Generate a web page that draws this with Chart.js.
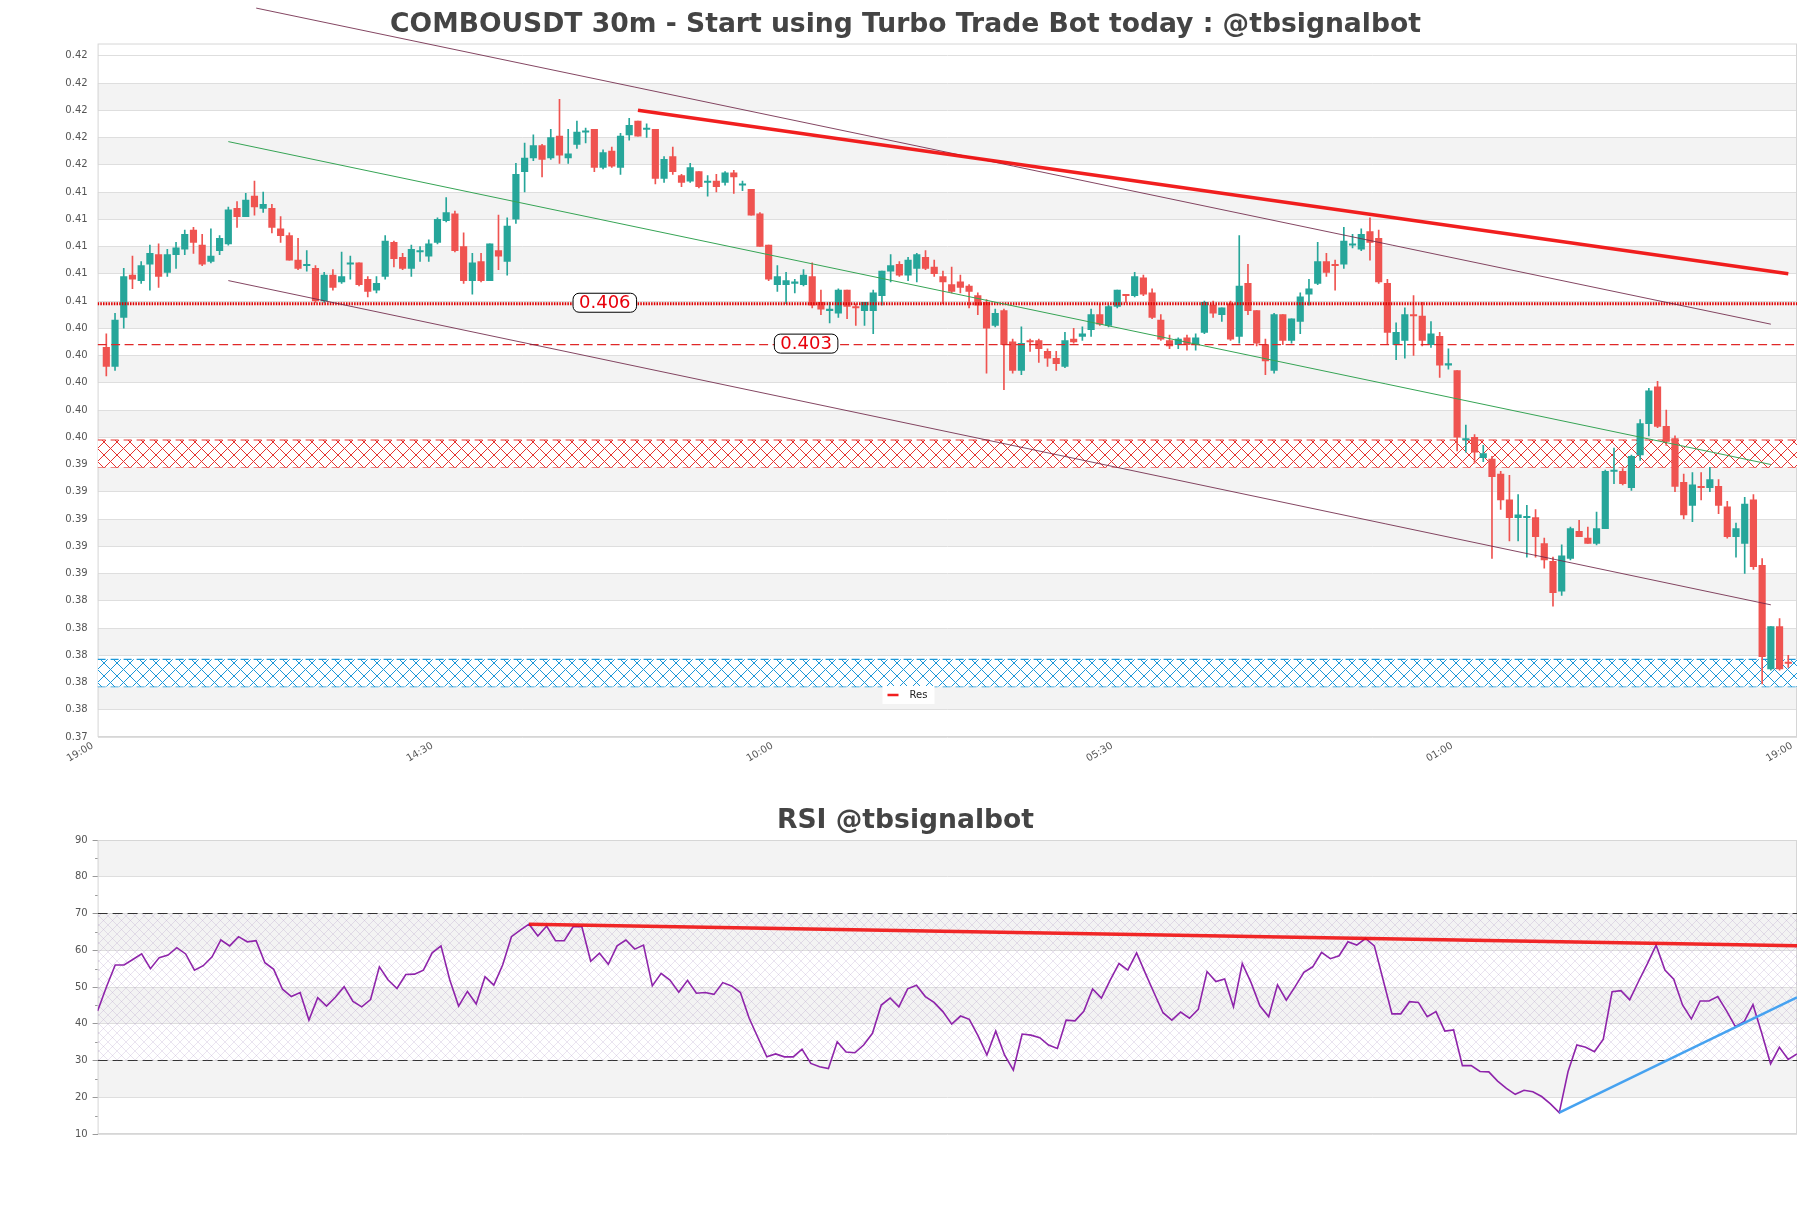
<!DOCTYPE html>
<html>
<head>
<meta charset="utf-8">
<script src="https://cdn.jsdelivr.net/npm/chart.js@4.4.1/dist/chart.umd.min.js"></script>
<style>
html, body { margin: 0; padding: 0; background: #fff; }
#wrap { position: relative; width: 1811px; height: 1208px; }
#main { position: absolute; left: 0; top: 0; width: 1811px; height: 790px; }
#rsi { position: absolute; left: 0; top: 790px; width: 1811px; height: 418px; }
</style>
</head>
<body>
<div id="wrap">
  <canvas id="main" width="1811" height="790"></canvas>
  <canvas id="rsi" width="1811" height="418"></canvas>
</div>
<script>
// COMBOUSDT 30m candles + RSI (Chart.js)
Chart.defaults.font.family = "'DejaVu Sans', sans-serif";
Chart.defaults.color = '#555';
Chart.defaults.animation = false;

const xTickLabels = ['19:00', '14:30', '10:00', '05:30', '01:00', '19:00'];

const opens = [
  0.4026,0.4012,0.4048,0.4079,0.4075,0.4087,0.4094,0.4081,0.4094,0.4098,
  0.4112,0.4101,0.4089,0.4097,0.4102,0.4128,0.4122,0.4137,0.4128,0.4128,
  0.4113,0.4108,0.4090,0.4086,0.4084,0.4060,0.4079,0.4074,0.4087,0.4088,
  0.4076,0.4068,0.4078,0.4103,0.4092,0.4084,0.4096,0.4093,0.4103,0.4119,
  0.4124,0.4100,0.4075,0.4089,0.4075,0.4097,0.4089,0.4120,0.4155,0.4165,
  0.4174,0.4165,0.4181,0.4165,0.4175,0.4184,0.4186,0.4158,0.4170,0.4158,
  0.4182,0.4192,0.4186,0.4186,0.4150,0.4166,0.4152,0.4148,0.4155,0.4147,
  0.4148,0.4147,0.4154,0.4145,0.4142,0.4124,0.4101,0.4072,0.4072,0.4073,
  0.4072,0.4078,0.4059,0.4053,0.4051,0.4068,0.4056,0.4053,0.4053,0.4064,
  0.4082,0.4087,0.4079,0.4084,0.4092,0.4085,0.4078,0.4072,0.4074,0.4071,
  0.4064,0.4059,0.4042,0.4053,0.4030,0.4009,0.4031,0.4031,0.4023,0.4018,
  0.4012,0.4032,0.4034,0.4039,0.4050,0.4042,0.4056,0.4065,0.4064,0.4077,
  0.4066,0.4046,0.4031,0.4028,0.4033,0.4028,0.4037,0.4057,0.4050,0.4058,
  0.4034,0.4073,0.4053,0.4028,0.4009,0.4050,0.4031,0.4045,0.4065,0.4073,
  0.4089,0.4087,0.4087,0.4101,0.4098,0.4111,0.4106,0.4073,0.4028,0.4031,
  0.4050,0.4049,0.4028,0.4034,0.4013,0.4009,0.3958,0.3960,0.3945,0.3944,
  0.3933,0.3914,0.3901,0.3901,0.3901,0.3882,0.3869,0.3847,0.3871,0.3891,
  0.3886,0.3882,0.3893,0.3935,0.3935,0.3923,0.3947,0.3970,0.3997,0.3968,
  0.3959,0.3927,0.3910,0.3924,0.3923,0.3924,0.3909,0.3887,0.3882,0.3914,
  0.3866,0.3790,0.3821,0.3795
];
const highs = [
  0.4036,0.4051,0.4084,0.4093,0.4089,0.4101,0.4102,0.4098,0.4103,0.4112,
  0.4114,0.4109,0.4113,0.4108,0.4129,0.4133,0.4139,0.4148,0.4140,0.4131,
  0.4122,0.4110,0.4106,0.4097,0.4086,0.4081,0.4083,0.4096,0.4093,0.4088,
  0.4078,0.4078,0.4108,0.4104,0.4095,0.4101,0.4100,0.4105,0.4121,0.4136,
  0.4126,0.4110,0.4095,0.4095,0.4102,0.4123,0.4121,0.4161,0.4176,0.4182,
  0.4175,0.4186,0.4208,0.4186,0.4192,0.4187,0.4186,0.4171,0.4173,0.4183,
  0.4194,0.4192,0.4190,0.4186,0.4166,0.4173,0.4153,0.4161,0.4155,0.4152,
  0.4153,0.4155,0.4156,0.4148,0.4142,0.4125,0.4101,0.4086,0.4081,0.4076,
  0.4083,0.4088,0.4068,0.4059,0.4069,0.4068,0.4058,0.4059,0.4068,0.4082,
  0.4094,0.4089,0.4092,0.4095,0.4097,0.4090,0.4082,0.4085,0.4079,0.4072,
  0.4066,0.4061,0.4054,0.4054,0.4032,0.4041,0.4032,0.4032,0.4025,0.4023,
  0.4037,0.4040,0.4041,0.4054,0.4058,0.4057,0.4068,0.4065,0.4081,0.4079,
  0.4069,0.4050,0.4035,0.4033,0.4035,0.4036,0.4060,0.4060,0.4055,0.4060,
  0.4108,0.4087,0.4053,0.4032,0.4051,0.4050,0.4047,0.4066,0.4076,0.4103,
  0.4095,0.4090,0.4114,0.4109,0.4113,0.4121,0.4112,0.4076,0.4044,0.4055,
  0.4064,0.4059,0.4045,0.4037,0.4025,0.4009,0.3969,0.3962,0.3954,0.3946,
  0.3935,0.3932,0.3918,0.3910,0.3907,0.3886,0.3872,0.3881,0.3894,0.3899,
  0.3894,0.3905,0.3936,0.3952,0.3937,0.3947,0.3973,0.3996,0.4001,0.3980,
  0.3961,0.3933,0.3934,0.3934,0.3938,0.3929,0.3913,0.3897,0.3916,0.3918,
  0.3871,0.3821,0.3827,0.3800
];
const lows = [
  0.4005,0.4009,0.4040,0.4069,0.4073,0.4068,0.4070,0.4078,0.4084,0.4094,
  0.4095,0.4086,0.4088,0.4094,0.4101,0.4114,0.4122,0.4123,0.4125,0.4110,
  0.4103,0.4090,0.4083,0.4082,0.4059,0.4059,0.4068,0.4073,0.4076,0.4071,
  0.4063,0.4066,0.4076,0.4085,0.4083,0.4078,0.4089,0.4089,0.4102,0.4118,
  0.4096,0.4073,0.4065,0.4074,0.4075,0.4083,0.4079,0.4117,0.4140,0.4163,
  0.4151,0.4164,0.4161,0.4161,0.4172,0.4176,0.4155,0.4157,0.4158,0.4153,
  0.4178,0.4181,0.4180,0.4146,0.4147,0.4153,0.4144,0.4147,0.4143,0.4137,
  0.4140,0.4145,0.4139,0.4141,0.4123,0.4100,0.4075,0.4067,0.4058,0.4066,
  0.4071,0.4055,0.4050,0.4044,0.4048,0.4047,0.4042,0.4042,0.4036,0.4057,
  0.4074,0.4078,0.4075,0.4074,0.4083,0.4078,0.4058,0.4066,0.4066,0.4055,
  0.4050,0.4007,0.4041,0.3995,0.4007,0.4006,0.4023,0.4015,0.4012,0.4009,
  0.4011,0.4029,0.4031,0.4034,0.4042,0.4041,0.4055,0.4059,0.4063,0.4064,
  0.4047,0.4031,0.4025,0.4025,0.4024,0.4024,0.4036,0.4048,0.4045,0.4031,
  0.4029,0.4050,0.4027,0.4006,0.4007,0.4028,0.4029,0.4036,0.4057,0.4072,
  0.4078,0.4068,0.4084,0.4099,0.4097,0.4090,0.4073,0.4028,0.4017,0.4018,
  0.4020,0.4027,0.4026,0.4004,0.4010,0.3950,0.3949,0.3941,0.3942,0.3871,
  0.3907,0.3884,0.3884,0.3872,0.3872,0.3864,0.3836,0.3844,0.3870,0.3887,
  0.3882,0.3881,0.3893,0.3926,0.3925,0.3921,0.3943,0.3961,0.3967,0.3954,
  0.3920,0.3900,0.3898,0.3914,0.3920,0.3904,0.3886,0.3872,0.3860,0.3863,
  0.3779,0.3789,0.3789,0.3791
];
const closes = [
  0.4012,0.4046,0.4078,0.4076,0.4086,0.4095,0.4078,0.4094,0.4099,0.4109,
  0.4103,0.4087,0.4093,0.4106,0.4127,0.4122,0.4134,0.4129,0.4131,0.4114,
  0.4108,0.4090,0.4084,0.4087,0.4060,0.4079,0.4070,0.4078,0.4088,0.4072,
  0.4067,0.4073,0.4104,0.4091,0.4084,0.4098,0.4097,0.4102,0.4120,0.4125,
  0.4097,0.4075,0.4088,0.4075,0.4102,0.4093,0.4115,0.4153,0.4165,0.4174,
  0.4164,0.4180,0.4167,0.4168,0.4184,0.4185,0.4158,0.4169,0.4159,0.4181,
  0.4189,0.4181,0.4187,0.4150,0.4164,0.4155,0.4147,0.4158,0.4144,0.4148,
  0.4144,0.4154,0.4151,0.4146,0.4123,0.4100,0.4076,0.4078,0.4075,0.4074,
  0.4079,0.4057,0.4054,0.4054,0.4068,0.4056,0.4055,0.4059,0.4066,0.4082,
  0.4086,0.4079,0.4090,0.4094,0.4084,0.4080,0.4074,0.4067,0.4070,0.4067,
  0.4057,0.4040,0.4051,0.4028,0.4009,0.4029,0.4030,0.4025,0.4018,0.4014,
  0.4031,0.4030,0.4036,0.4050,0.4043,0.4056,0.4068,0.4064,0.4078,0.4065,
  0.4048,0.4032,0.4027,0.4032,0.4028,0.4033,0.4059,0.4051,0.4055,0.4032,
  0.4071,0.4053,0.4029,0.4016,0.4050,0.4031,0.4047,0.4063,0.4069,0.4089,
  0.4081,0.4086,0.4104,0.4102,0.4109,0.4103,0.4074,0.4037,0.4037,0.4050,
  0.4049,0.4031,0.4036,0.4013,0.4014,0.3960,0.3959,0.3949,0.3948,0.3931,
  0.3914,0.3901,0.3903,0.3902,0.3887,0.3870,0.3846,0.3873,0.3893,0.3887,
  0.3882,0.3893,0.3935,0.3936,0.3926,0.3946,0.3970,0.3994,0.3968,0.3957,
  0.3924,0.3903,0.3925,0.3923,0.3929,0.3910,0.3887,0.3893,0.3911,0.3865,
  0.3799,0.3821,0.3790,0.3794
];

const rsiValues = [
  43.5,50,56,56,57.5,59,55,58,58.7,60.7,
  59,54.6,55.8,58.2,62.8,61.2,63.7,62.3,62.6,56.6,
  54.8,49.4,47.4,48.5,41,47.1,44.8,47.2,50.1,46.1,
  44.6,46.6,55.5,51.9,49.6,53.4,53.5,54.6,59.3,61.2,
  51.9,44.8,48.8,45.4,52.8,50.5,56,63.7,65.5,67.1,
  63.9,66.6,62.6,62.6,66.4,66.4,57,59.2,56.2,61.2,
  62.8,60.3,61.4,50.3,53.7,51.9,48.6,51.8,48.3,48.5,
  48,51.2,50.3,48.5,41.5,36.2,31,31.8,31,31,
  33.1,29.2,28.3,27.8,35.1,32.3,32.1,34.2,37.4,45.1,
  47,44.6,49.5,50.5,47.4,45.8,43.3,39.9,42.1,41.2,
  36.7,31.5,38,31.5,27.4,37.2,36.9,36.2,34.2,33.3,
  41,40.8,43.4,49.5,47,51.9,56.4,54.6,59.3,53.7,
  48.3,43,41,43.2,41.5,43.9,54.2,51.5,52.2,44.6,
  56.4,51.2,44.9,41.9,50.6,46.4,50.1,54,55.5,59.4,
  57.7,58.5,62.3,61.4,63.2,61.2,51.9,42.7,42.7,46,
  45.8,41.9,43.3,38,38.3,28.6,28.6,27,26.9,24.4,
  22.4,20.8,21.9,21.5,20.2,18.2,15.8,27,34.2,33.6,
  32.4,35.8,48.7,49,46.5,51.5,56.3,61.4,54.6,52.1,
  45.1,41.3,46.2,46.2,47.4,43.5,39.2,40.6,45.2,37.4,
  29.1,33.6,30.3,31.8
];

// trend lines as [candle index, price]
const resLine = [[61, 0.4200], [193, 0.4080]];
const channelUpper = [[17.2, 0.4275], [191, 0.4043]];
const channelLower = [[14, 0.4075], [191, 0.3837]];
const channelMid = [[14, 0.4177], [191, 0.3940]];
const levels = [0.4058, 0.4028];
const levelTexts = ['0.406', '0.403'];
const levelTextAt = [57.2, 80.3];
const resZone = [0.3938, 0.3958];
const supZone = [0.3777, 0.3797];

const rsiRes = [[49, 67.1], [193, 61.2]];
const rsiSup = [[166, 15.8], [193, 47.2]];
const rsiBounds = [30, 70];

const N = opens.length;
const GREEN = '#26a69a', RED = '#ef5350';
const CHANNEL = 'rgba(110,38,70,0.85)';

const pts = (arr) => arr.map(([x, y]) => ({ x, y }));
const flat = (v, a, b) => [{ x: a, y: v }, { x: b, y: v }];

function hatch(ctx, color, size, bg) {
    const c = document.createElement('canvas');
    c.width = c.height = size;
    const g = c.getContext('2d');
    if (bg) { g.fillStyle = bg; g.fillRect(0, 0, size, size); }
    g.strokeStyle = color;
    g.lineWidth = 1;
    g.beginPath();
    g.moveTo(0, 0); g.lineTo(size, size);
    g.moveTo(size, 0); g.lineTo(0, size);
    g.stroke();
    return ctx.createPattern(c, 'repeat');
}

// empty right-hand spacer so the title stays centred on the full canvas
const spacer = {
    position: 'right', display: true,
    afterFit: s => { s.width = 14; },
    ticks: { display: false },
    grid: { display: false, drawTicks: false },
    border: { display: false }
};

// alternating grey bands + frame
const bands = {
    id: 'bands',
    beforeDraw(chart) {
        const { ctx, chartArea: a, scales: { y } } = chart;
        ctx.save();
        ctx.fillStyle = '#fff';
        ctx.fillRect(0, 0, chart.width, chart.height);
        ctx.fillStyle = '#f3f3f3';
        const t = y.ticks;
        for (let k = 1; k < t.length - 1; k += 2) {
            const y0 = y.getPixelForValue(t[k].value);
            const y1 = y.getPixelForValue(t[k + 1].value);
            ctx.fillRect(a.left, y1, a.right - a.left, y0 - y1);
        }
        ctx.restore();
    },
    beforeDatasetsDraw(chart) {
        const { ctx, chartArea: a } = chart;
        ctx.save();
        ctx.strokeStyle = '#d6d6d6';
        ctx.lineWidth = 1;
        ctx.strokeRect(a.left + 0.5, a.top + 0.5, a.right - a.left - 1, a.bottom - a.top - 1);
        ctx.restore();
    }
};

function roundRect(ctx, x, y, w, h, r) {
    ctx.beginPath();
    ctx.moveTo(x + r, y);
    ctx.arcTo(x + w, y, x + w, y + h, r);
    ctx.arcTo(x + w, y + h, x, y + h, r);
    ctx.arcTo(x, y + h, x, y, r);
    ctx.arcTo(x, y, x + w, y, r);
    ctx.closePath();
}

// level price tags and the small "Res" legend
const tags = {
    id: 'tags',
    afterDatasetsDraw(chart) {
        const { ctx, chartArea: a, scales: { x, y } } = chart;
        ctx.save();
        ctx.font = '18px "DejaVu Sans"';
        ctx.textAlign = 'center';
        ctx.textBaseline = 'middle';
        levels.forEach((v, k) => {
            const px = x.getPixelForValue(levelTextAt[k]);
            const py = y.getPixelForValue(v) - 1;
            const w = ctx.measureText(levelTexts[k]).width + 12, h = 19;
            roundRect(ctx, px - w / 2, py - h / 2, w, h, 6);
            ctx.fillStyle = '#fff';
            ctx.fill();
            ctx.strokeStyle = '#000';
            ctx.lineWidth = 1;
            ctx.stroke();
            ctx.fillStyle = '#e8000b';
            ctx.fillText(levelTexts[k], px, py + 1);
        });

        const res = chart.data.datasets[0];
        const cx = chart.width / 2 + 3, cy = a.bottom - 42;
        ctx.fillStyle = '#fff';
        ctx.fillRect(cx - 26, cy - 9, 52, 18);
        ctx.strokeStyle = res.borderColor;
        ctx.lineWidth = 2.5;
        ctx.beginPath();
        ctx.moveTo(cx - 21, cy); ctx.lineTo(cx - 10, cy);
        ctx.stroke();
        ctx.font = '10px "DejaVu Sans"';
        ctx.textAlign = 'left';
        ctx.fillStyle = '#222';
        ctx.fillText(res.label, cx + 1, cy);
        ctx.restore();
    }
};

const mainCtx = document.getElementById('main').getContext('2d');
const redHatch = hatch(mainCtx, '#e5322f', 13, '#fff');
const blueHatch = hatch(mainCtx, '#1b97d8', 13, '#fff');

new Chart(mainCtx, {
    type: 'bar',
    data: {
        datasets: [{
            type: 'line', label: 'Res', data: pts(resLine),
            borderColor: 'rgba(240,12,12,0.92)', borderWidth: 3.5, pointRadius: 0, order: 0
        }, {
            type: 'line', label: 'upper', data: pts(channelUpper), clip: false,
            borderColor: CHANNEL, borderWidth: 1, pointRadius: 0, order: 1
        }, {
            type: 'line', label: 'lower', data: pts(channelLower),
            borderColor: CHANNEL, borderWidth: 1, pointRadius: 0, order: 1
        }, {
            type: 'line', label: 'mid', data: pts(channelMid),
            borderColor: '#36a455', borderWidth: 1, pointRadius: 0, order: 1
        }, {
            type: 'line', label: 'lvl1', data: flat(levels[0], -1, N),
            borderColor: '#e00000', borderWidth: 3, borderDash: [1.5, 1.2], pointRadius: 0, order: 2
        }, {
            type: 'line', label: 'lvl2', data: flat(levels[1], -1, N),
            borderColor: '#e02828', borderWidth: 1.2, borderDash: [9, 4.5], pointRadius: 0, order: 2
        }, {
            label: 'body', data: opens.map((o, i) => ({ x: i, y: [o, closes[i]] })),
            backgroundColor: c => closes[c.dataIndex] >= opens[c.dataIndex] ? GREEN : RED,
            barThickness: 6.5, minBarLength: 1, grouped: false, borderWidth: 0, order: 3
        }, {
            label: 'wick', data: lows.map((l, i) => ({ x: i, y: [l, highs[i]] })),
            backgroundColor: c => closes[c.dataIndex] >= opens[c.dataIndex] ? GREEN : RED,
            barThickness: 1, grouped: false, borderWidth: 0, order: 4
        }, {
            type: 'line', label: 'zoneRes', data: flat(resZone[1], -1, N), fill: '+1',
            backgroundColor: redHatch, borderColor: '#e5322f', borderWidth: 1.2,
            borderDash: [8, 5], pointRadius: 0, order: 5
        }, {
            type: 'line', label: 'zoneRes2', data: flat(resZone[0], -1, N), fill: false,
            borderColor: '#e5322f', borderWidth: 1.2, borderDash: [8, 5], pointRadius: 0, order: 5
        }, {
            type: 'line', label: 'zoneSup', data: flat(supZone[1], -1, N), fill: '+1',
            backgroundColor: blueHatch, borderColor: '#1b97d8', borderWidth: 1.2,
            borderDash: [8, 5], pointRadius: 0, order: 5
        }, {
            type: 'line', label: 'zoneSup2', data: flat(supZone[0], -1, N), fill: false,
            borderColor: '#1b97d8', borderWidth: 1.2, borderDash: [8, 5], pointRadius: 0, order: 5
        }]
    },
    options: {
        responsive: false,
        devicePixelRatio: 1,
        events: [],
        layout: { padding: 0 },
        plugins: {
            legend: { display: false },
            tooltip: { enabled: false },
            title: {
                display: true,
                text: 'COMBOUSDT 30m - Start using Turbo Trade Bot today : @tbsignalbot',
                color: '#444', font: { size: 26.6, weight: 'bold' },
                padding: { top: 9.5, bottom: 2.1 }
            }
        },
        scales: {
            x: {
                type: 'linear', min: -1, max: N, offset: false,
                afterBuildTicks: s => {
                    const step = (N + 1) / (xTickLabels.length - 1);
                    s.ticks = xTickLabels.map((_, k) => ({ value: -1 + k * step }));
                },
                afterFit: s => { s.height = 53; },
                ticks: {
                    autoSkip: false, minRotation: 30, maxRotation: 30, padding: 3,
                    labelOffset: -5, font: { size: 10 }, color: '#555',
                    callback: (v, k) => xTickLabels[k]
                },
                grid: { display: false, drawTicks: false },
                border: { display: false }
            },
            y: {
                type: 'linear', min: 0.374, max: 0.4249,
                afterBuildTicks: s => {
                    const t = [];
                    for (let k = 0; k <= 25; k++) t.push({ value: +(0.374 + k * 0.002).toFixed(4) });
                    s.ticks = t;
                },
                afterFit: s => { s.width = 97.6; },
                ticks: { callback: v => v.toFixed(2), font: { size: 10 }, color: '#555', padding: 10 },
                grid: { color: '#dedede', drawTicks: false },
                border: { display: false }
            },
            spacer
        }
    },
    plugins: [bands, tags]
});

// RSI panel
const minorTicks = {
    id: 'minorTicks',
    afterDraw(chart) {
        const { ctx, chartArea: a, scales: { y } } = chart;
        ctx.save();
        ctx.strokeStyle = '#999';
        ctx.lineWidth = 1;
        for (let v = 15; v < 90; v += 10) {
            const py = Math.round(y.getPixelForValue(v)) + 0.5;
            ctx.beginPath();
            ctx.moveTo(a.left - 2.5, py); ctx.lineTo(a.left, py);
            ctx.stroke();
        }
        ctx.restore();
    }
};

const rsiCtx = document.getElementById('rsi').getContext('2d');
const rsiHatch = hatch(rsiCtx, 'rgba(160,130,185,0.22)', 9, null);

new Chart(rsiCtx, {
    type: 'line',
    data: {
        datasets: [{
            label: 'RSI', data: rsiValues.map((v, j) => ({ x: j, y: v })),
            borderColor: '#8e24aa', borderWidth: 1.6, pointRadius: 0, order: 1
        }, {
            label: 'rsiRes', data: pts(rsiRes),
            borderColor: 'rgba(240,10,10,0.88)', borderWidth: 3.5, pointRadius: 0, order: 0
        }, {
            label: 'rsiSup', data: pts(rsiSup),
            borderColor: '#46a2f0', borderWidth: 2.6, pointRadius: 0, order: 0
        }, {
            label: 'upperBound', data: flat(rsiBounds[1], 0, N - 1), fill: '+1',
            backgroundColor: rsiHatch, borderColor: '#333', borderWidth: 1,
            borderDash: [10, 5], pointRadius: 0, order: 3
        }, {
            label: 'lowerBound', data: flat(rsiBounds[0], 0, N - 1), fill: false,
            borderColor: '#333', borderWidth: 1, borderDash: [10, 5], pointRadius: 0, order: 3
        }]
    },
    options: {
        responsive: false,
        devicePixelRatio: 1,
        events: [],
        layout: { padding: { left: 0, right: 0, top: 0, bottom: 74 } },
        plugins: {
            legend: { display: false },
            tooltip: { enabled: false },
            title: {
                display: true, text: 'RSI @tbsignalbot',
                color: '#444', font: { size: 26.6, weight: 'bold' },
                padding: { top: 15.5, bottom: 2.6 }
            }
        },
        scales: {
            x: { type: 'linear', min: 0, max: N - 1, display: false },
            y: {
                min: 10, max: 90,
                afterFit: s => { s.width = 97.6; },
                ticks: { stepSize: 10, font: { size: 10 }, color: '#555', padding: 5 },
                grid: { color: '#dedede', tickLength: 5, tickColor: '#999' },
                border: { display: false }
            },
            spacer
        }
    },
    plugins: [bands, minorTicks]
});
</script>
</body>
</html>
